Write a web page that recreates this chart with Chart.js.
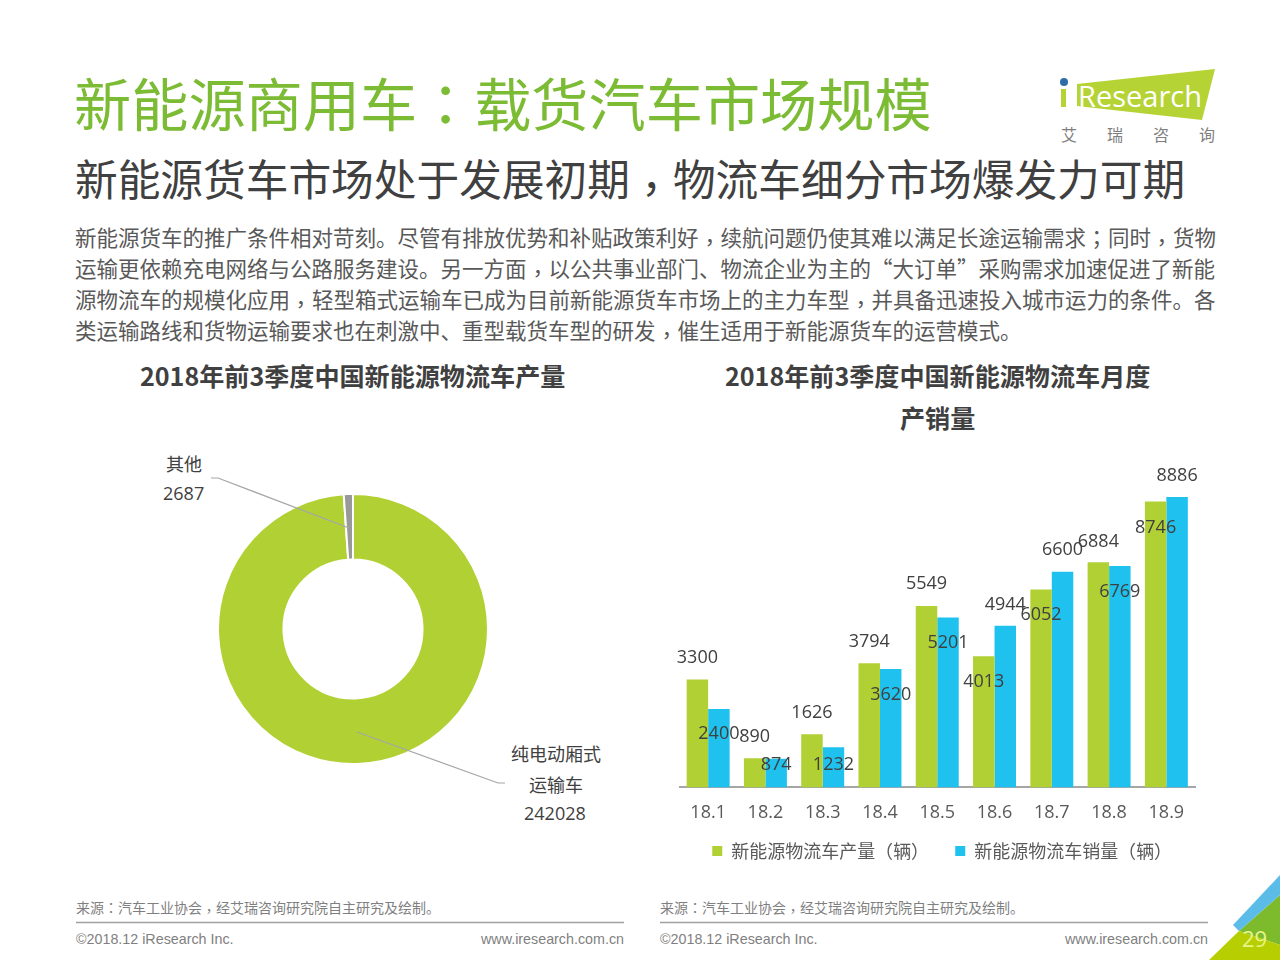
<!DOCTYPE html>
<html>
<head>
<meta charset="utf-8">
<script src="https://cdn.jsdelivr.net/npm/chart.js@4/dist/chart.umd.min.js"></script>
<style>
@font-face { font-family: "Punct"; src: local("Noto Sans CJK TC"), local("Noto Sans CJK TC Regular"); unicode-range: U+FF08, U+FF09, U+FF0C, U+FF1A, U+FF1B; }
html, body { margin: 0; padding: 0; background: #fff; }
body { width: 1280px; height: 960px; position: relative; overflow: hidden; font-family: "Punct", "Noto Sans CJK SC", "Open Sans", sans-serif; }
.t { position: absolute; white-space: nowrap; line-height: 1; }
.c { position: relative; top: .2em; }
canvas { position: absolute; }
svg { position: absolute; left: 0; top: 0; }
</style>
</head>
<body>
<svg width="1280" height="960">
  <!-- logo -->
  <polygon points="1077,84 1215,69 1202,120 1077,106" fill="#b5d334"/>
  <circle cx="1064" cy="82" r="4" fill="#2f6da8"/>
  <rect x="1061" y="89" width="5" height="18" fill="#b5d334"/>
  <text x="1078" y="107" font-family="Open Sans" font-size="29" fill="#fff">Research</text>
  <!-- corner -->
  <polygon points="1239,931 1280,895 1280,945" fill="#7dbb2c"/>
  <polygon points="1233,925 1280,875 1280,895 1239,931" fill="#5bbce8"/>
  <polygon points="1209,960 1239,931 1280,945 1280,960" fill="#b7cf00"/>
  <!-- footer rules -->
  <line x1="76" y1="922.5" x2="624" y2="922.5" stroke="#a0a0a0" stroke-width="1.5"/>
  <line x1="660" y1="922.5" x2="1208" y2="922.5" stroke="#a0a0a0" stroke-width="1.5"/>
</svg>

<div class="t" style="left:74px;top:73px;font-size:57.2px;color:#7cbb34;">新能源商用车&#xFF1A;载货汽车市场规模</div>
<div class="t" style="left:75px;top:156px;font-size:42.7px;color:#404040;">新能源货车市场处于发展初期<span class="c">&#xFF0C;</span>物流车细分市场爆发力可期</div>

<div class="t" style="left:75px;top:226px;font-size:21.5px;color:#595959;">新能源货车的推广条件相对苛刻。尽管有排放优势和补贴政策利好<span class="c">&#xFF0C;</span>续航问题仍使其难以满足长途运输需求&#xFF1B;同时<span class="c">&#xFF0C;</span>货物</div>
<div class="t" style="left:75px;top:257px;font-size:21.5px;color:#595959;">运输更依赖充电网络与公路服务建设。另一方面<span class="c">&#xFF0C;</span>以公共事业部门、物流企业为主的“大订单”采购需求加速促进了新能</div>
<div class="t" style="left:75px;top:288px;font-size:21.5px;color:#595959;">源物流车的规模化应用<span class="c">&#xFF0C;</span>轻型箱式运输车已成为目前新能源货车市场上的主力车型<span class="c">&#xFF0C;</span>并具备迅速投入城市运力的条件。各</div>
<div class="t" style="left:75px;top:319px;font-size:21.5px;color:#595959;">类运输路线和货物运输要求也在刺激中、重型载货车型的研发<span class="c">&#xFF0C;</span>催生适用于新能源货车的运营模式。</div>

<div class="t" style="left:140px;top:363px;font-size:25.1px;font-weight:700;color:#404040;">2018年前3季度中国新能源物流车产量</div>
<div class="t" style="left:725px;top:363px;font-size:25.1px;font-weight:700;color:#404040;">2018年前3季度中国新能源物流车月度</div>
<div class="t" style="left:900px;top:405px;font-size:25.1px;font-weight:700;color:#404040;">产销量</div>

<div class="t" style="left:166px;top:454px;font-size:18px;color:#404040;">其他</div>
<div class="t" style="left:163px;top:484px;font-size:18px;color:#404040;font-family:'Open Sans';">2687</div>
<div class="t" style="left:511px;top:744px;font-size:18px;color:#404040;">纯电动厢式</div>
<div class="t" style="left:529px;top:775px;font-size:18px;color:#404040;">运输车</div>
<div class="t" style="left:524px;top:804px;font-size:18px;color:#404040;font-family:'Open Sans';">242028</div>

<div class="t" style="left:76px;top:900px;font-size:14px;color:#7f7f7f;">来源&#xFF1A;汽车工业协会<span class="c">&#xFF0C;</span>经艾瑞咨询研究院自主研究及绘制。</div>
<div class="t" style="left:660px;top:900px;font-size:14px;color:#7f7f7f;">来源&#xFF1A;汽车工业协会<span class="c">&#xFF0C;</span>经艾瑞咨询研究院自主研究及绘制。</div>
<div class="t" style="left:76px;top:932px;font-size:14.3px;color:#7f7f7f;font-family:'Liberation Sans';">©2018.12 iResearch Inc.</div>
<div class="t" style="left:481px;top:932px;font-size:14.3px;color:#7f7f7f;font-family:'Liberation Sans';">www.iresearch.com.cn</div>
<div class="t" style="left:660px;top:932px;font-size:14.3px;color:#7f7f7f;font-family:'Liberation Sans';">©2018.12 iResearch Inc.</div>
<div class="t" style="left:1065px;top:932px;font-size:14.3px;color:#7f7f7f;font-family:'Liberation Sans';">www.iresearch.com.cn</div>
<div class="t" style="left:1242px;top:927px;font-size:22px;color:#e8f58a;font-family:'Open Sans';">29</div>
<div class="t" style="left:1061px;top:126px;font-size:16px;color:#7f7f7f;letter-spacing:30px;">艾瑞咨询</div>

<canvas id="pie" width="272" height="272" style="left:217px;top:493px;"></canvas>
<canvas id="bar" width="555" height="430" style="left:660px;top:440px;"></canvas>

<svg width="1280" height="960">
  <!-- leader lines -->
  <polyline points="211,478 218,478 349,528" fill="none" stroke="#a6a6a6" stroke-width="1.2"/>
  <polyline points="357,732 498,783 505,783" fill="none" stroke="#a6a6a6" stroke-width="1.2"/>
</svg>

<script>
const pieLabels = ['纯电动厢式运输车', '其他'];
const pieValues = [242028, 2687];

const months = ['18.1','18.2','18.3','18.4','18.5','18.6','18.7','18.8','18.9'];
const output = [3300, 890, 1626, 3794, 5549, 4013, 6052, 6884, 8746];
const sales = [2400, 874, 1232, 3620, 5201, 4944, 6600, 6769, 8886];

// how far each value label sits from the top of its bar, as on the slide
const outputShift = [-22, -21, -21, -21, -22, 26, 25, -20, 26];
const salesShift = [25, 6, 18, 26, 25, -21, -22, 26, -21];

// the legend sits closer to the axis than chart.js would leave room for
const axisOverlap = 23;
const legendNudge = 5;

new Chart('pie', {
  type: 'doughnut',
  data: {
    labels: pieLabels,
    datasets: [{
      data: pieValues,
      backgroundColor: ['#b1d034', '#999999'],
      borderColor: '#fff',
      borderWidth: 2
    }]
  },
  options: {
    responsive: false,
    animation: false,
    cutout: '51.5%',
    layout: {padding: 0},
    plugins: {legend: {display: false}, tooltip: {enabled: false}}
  }
});

const valueLabels = {
  id: 'valueLabels',
  afterLayout(chart) {
    // give the tick labels their clip area back
    chart.scales.x.bottom += axisOverlap;
    chart.legend.left += legendNudge;
    chart.legend.right += legendNudge;
  },
  afterDatasetsDraw(chart) {
    const ctx = chart.ctx;
    ctx.save();
    ctx.font = '18px "Open Sans"';
    ctx.fillStyle = '#404040';
    ctx.textAlign = 'center';
    ctx.textBaseline = 'middle';
    [outputShift, salesShift].forEach((shift, d) => {
      chart.getDatasetMeta(d).data.forEach((bar, i) => {
        ctx.fillText(chart.data.datasets[d].data[i], bar.x, bar.y + shift[i]);
      });
    });
    ctx.restore();
  }
};

new Chart('bar', {
  type: 'bar',
  data: {
    labels: months,
    datasets: [
      {label: '新能源物流车产量\uFF08辆\uFF09', data: output, backgroundColor: '#b1d034'},
      {label: '新能源物流车销量\uFF08辆\uFF09', data: sales, backgroundColor: '#1fc2ee'}
    ]
  },
  options: {
    responsive: false,
    animation: false,
    layout: {padding: {left: 19.5, right: 20, top: 20.5, bottom: 0}},
    datasets: {bar: {categoryPercentage: 0.75, barPercentage: 1}},
    scales: {
      x: {
        grid: {display: false, drawTicks: false},
        border: {color: '#a6a6a6', width: 2},
        ticks: {color: '#595959', font: {size: 18, family: '"Open Sans"'}, padding: 15, maxRotation: 0},
        afterFit(axis) { axis.height -= axisOverlap; }
      },
      y: {display: false, min: 0, max: 10000}
    },
    plugins: {
      tooltip: {enabled: false},
      legend: {
        position: 'bottom',
        labels: {
          usePointStyle: true,
          pointStyle: 'rect',
          boxWidth: 10,
          boxHeight: 10,
          padding: 26,
          color: '#595959',
          font: {size: 18, family: '"Punct", "Noto Sans CJK SC"'}
        }
      }
    }
  },
  plugins: [valueLabels]
});
</script>
</body>
</html>
